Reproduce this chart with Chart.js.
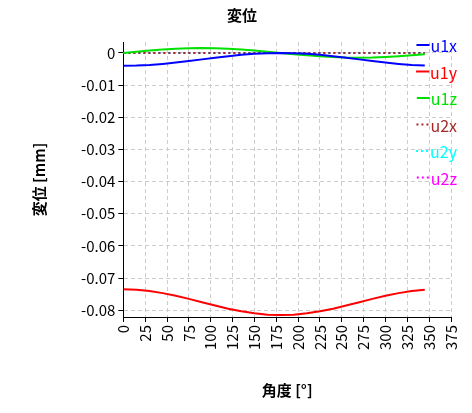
<!DOCTYPE html><html><head><meta charset="utf-8">
<script src="https://cdn.jsdelivr.net/npm/chart.js@4"></script>
<style>html,body{margin:0;background:#fff}#w{width:472px;height:413px}</style></head><body><div id="w"><canvas id="c"></canvas></div>
<script>
const angles=[0,15,30,45,60,75,90,105,120,135,150,165,180,195,210,225,240,255,270,285,300,315,330,345];
const u1x=[-0.004,-0.00393,-0.00373,-0.00341,-0.003,-0.00252,-0.002,-0.00148,-0.001,-0.00059,-0.00027,-0.00007,0,-0.00007,-0.00027,-0.00059,-0.001,-0.00148,-0.002,-0.00252,-0.003,-0.00341,-0.00373,-0.00393];
const u1y=[-0.0735,-0.07364,-0.07404,-0.07467,-0.0755,-0.07646,-0.0775,-0.07854,-0.0795,-0.08033,-0.08096,-0.08136,-0.0815,-0.08136,-0.08096,-0.08033,-0.0795,-0.07854,-0.0775,-0.07646,-0.0755,-0.07467,-0.07404,-0.07364];
const u1z=[0,0.00039,0.00075,0.00106,0.0013,0.00145,0.0015,0.00145,0.0013,0.00106,0.00075,0.00039,0,-0.00039,-0.00075,-0.00106,-0.0013,-0.00145,-0.0015,-0.00145,-0.0013,-0.00106,-0.00075,-0.00039];
const u2x=[0,0,0,0,0,0,0,0,0,0,0,0,0,0,0,0,0,0,0,0,0,0,0,0];
const u2y=[0,0,0,0,0,0,0,0,0,0,0,0,0,0,0,0,0,0,0,0,0,0,0,0];
const u2z=[0,0,0,0,0,0,0,0,0,0,0,0,0,0,0,0,0,0,0,0,0,0,0,0];
const names=['u1x','u1y','u1z','u2x','u2y','u2z'];
const colors=['#0000ff','#ff0000','#00e000','#a52a2a','#00ffff','#ff00ff'];
const yTicks=[0,-0.01,-0.02,-0.03,-0.04,-0.05,-0.06,-0.07,-0.08];
const F="'Noto Sans CJK JP','Noto Sans',sans-serif";
const series=[u1x,u1y,u1z,u2x,u2y,u2z];
const ds=series.map((s,i)=>({label:names[i],data:s.map((v,j)=>({x:angles[j],y:v})),borderColor:colors[i],borderWidth:2,pointRadius:0,borderDash:i>=3?[2,3]:[],tension:0}));
const legendPlugin={id:'lg',afterDraw(ch){const c=ch.ctx;c.save();c.font="16px "+F;c.textAlign='right';c.textBaseline='middle';
ds.forEach((d,i)=>{const y=45+i*26.5;const tx=457;const w=c.measureText(d.label).width;c.strokeStyle=d.borderColor;c.lineWidth=2;c.setLineDash(d.borderDash);c.beginPath();c.moveTo(tx-w-14,y);c.lineTo(tx-w-1,y);c.stroke();c.fillStyle=d.borderColor;c.fillText(d.label,tx,y+1);});c.restore();}};
new Chart(document.getElementById('c'),{type:'line',data:{datasets:ds},plugins:[legendPlugin],
options:{responsive:true,maintainAspectRatio:false,animation:false,layout:{padding:{left:26,right:14,top:4,bottom:10}},
plugins:{legend:{display:false},tooltip:{enabled:false},title:{display:true,text:'変位',font:{family:F,size:15,weight:'bold'},color:'#000',padding:{top:2,bottom:18}}},
scales:{x:{type:'linear',min:0,max:375,border:{color:'#000',dash:[4,3]},ticks:{stepSize:25,minRotation:90,maxRotation:90,color:'#000',font:{family:F,size:15}},grid:{color:'#ccc',tickColor:'#000',tickLength:5},title:{display:true,text:'角度 [°]',font:{family:F,size:15,weight:'bold'},color:'#000',padding:{top:28}}},
y:{min:-0.0821,max:0.0034,border:{color:'#000',dash:[4,3]},afterBuildTicks(a){a.ticks=yTicks.map(v=>({value:v}));},ticks:{color:'#000',font:{family:F,size:15},callback:v=>v===0?'0':String(+v.toFixed(2))},grid:{color:'#ccc',tickColor:'#000',tickLength:5},title:{display:true,text:'変位 [mm]',font:{family:F,size:15,weight:'bold'},color:'#000',padding:{bottom:30}}}}}});
</script></body></html>
